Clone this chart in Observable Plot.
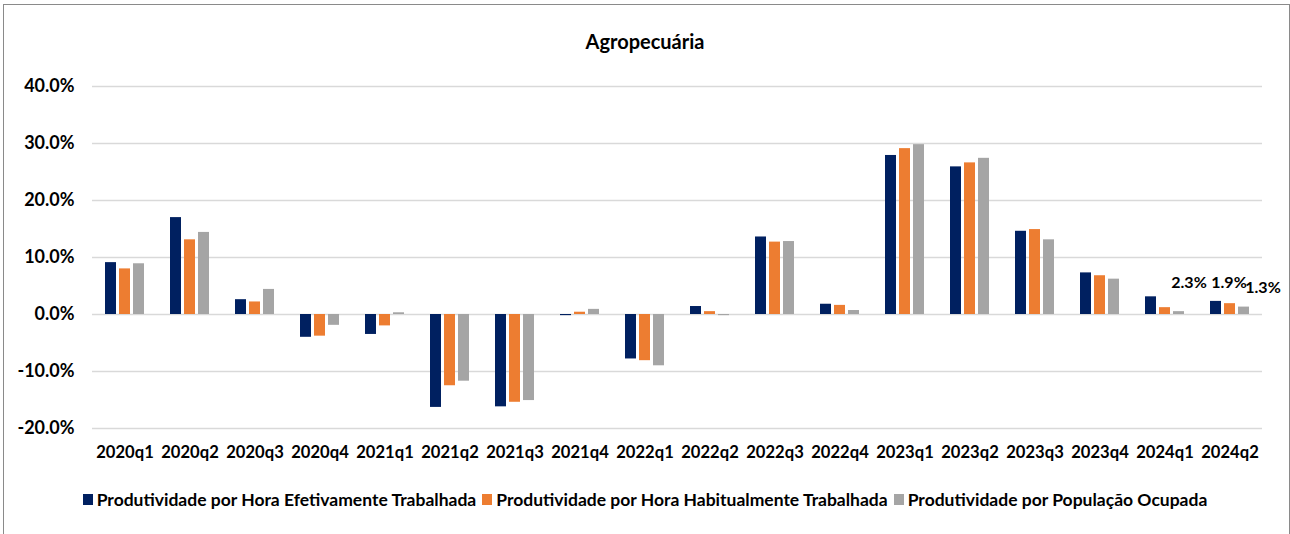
<!DOCTYPE html>
<html>
<head>
<meta charset="utf-8">
<script src="https://cdn.jsdelivr.net/npm/d3@7"></script>
<script src="https://cdn.jsdelivr.net/npm/@observablehq/plot@0.6"></script>
<style>
  html, body { margin: 0; padding: 0; background: #fff; overflow: hidden; }
  #wrap { position: relative; width: 1290px; height: 534px; font-family: Lato, "DejaVu Sans", sans-serif; color: #000; }
  #frame { position: absolute; left: 3px; top: 4px; width: 1287px; height: 600px; border: 1px solid #8a8a8a; box-sizing: border-box; }
  #title { position: absolute; left: 0; top: 0; width: 1290px; height: 65px; line-height: 24px; padding-top: 29px; box-sizing: border-box; text-align: center; font-weight: bold; font-size: 20px; }
  #chart { position: absolute; left: 0; top: 65px; }
  #legend { position: absolute; left: 0; top: 488px; width: 1290px; height: 22px; display: flex; justify-content: center; align-items: center; font-weight: bold; font-size: 17.5px; }
  .item { display: flex; align-items: center; margin: 0 3px; }
  .sw { width: 10px; height: 11px; margin-right: 4px; }
</style>
</head>
<body>
<div id="wrap">
  <div id="frame"></div>
  <div id="title">Agropecuária</div>
  <div id="chart"></div>
  <div id="legend"></div>
</div>
<script>
const quarters = ["2020q1","2020q2","2020q3","2020q4","2021q1","2021q2","2021q3","2021q4","2022q1","2022q2","2022q3","2022q4","2023q1","2023q2","2023q3","2023q4","2024q1","2024q2"];
const seriesNames = ["Produtividade por Hora Efetivamente Trabalhada", "Produtividade por Hora Habitualmente Trabalhada", "Produtividade por População Ocupada"];
const seriesColors = ["#002060", "#ED7D31", "#A5A5A5"];
const efetiva  = [9.1, 17.0, 2.6, -4.0, -3.5, -16.3, -16.2, -0.2, -7.8, 1.4, 13.6, 1.8, 27.9, 25.9, 14.6, 7.3, 3.1, 2.3];
const habitual = [8.0, 13.1, 2.2, -3.8, -2.0, -12.5, -15.4, 0.4, -8.1, 0.5, 12.7, 1.6, 29.1, 26.6, 14.9, 6.8, 1.2, 1.9];
const ocupada  = [8.9, 14.4, 4.4, -1.9, 0.3, -11.7, -15.1, 0.9, -9.0, -0.2, 12.8, 0.7, 29.8, 27.4, 13.1, 6.2, 0.5, 1.3];
const yTicks = [-20, -10, 0, 10, 20, 30, 40];
const labeledQuarter = "2024q2";

const seriesValues = [efetiva, habitual, ocupada];
const rows = quarters.flatMap((q, i) => seriesNames.map((s, j) => ({quarter: q, series: s, value: seriesValues[j][i]})));
const fmt = d => d.toFixed(1) + "%";
const labelOffsets = [{dx: -27, dy: -19}, {dx: -1, dy: -21}, {dx: 19, dy: -19}];

const labelMarks = seriesNames.map((s, j) =>
  Plot.text(rows.filter(d => d.quarter === labeledQuarter && d.series === s), {
    fx: "quarter", x: "series", y: "value", text: d => fmt(d.value),
    dx: labelOffsets[j].dx, dy: labelOffsets[j].dy,
    fontSize: 16, fontWeight: "bold", fill: "#000"
  })
);

const chart = Plot.plot({
  width: 1290, height: 405,
  marginTop: 21, marginBottom: 42, marginLeft: 91, marginRight: 28,
  style: {fontFamily: "Lato, 'DejaVu Sans', sans-serif", fontWeight: "bold", fontSize: "16.6px", color: "#000", background: "transparent"},
  fx: {domain: quarters, padding: 0, label: null, tickSize: 0, tickPadding: 18, axis: "bottom"},
  x: {domain: seriesNames, paddingInner: 0.207, paddingOuter: 0.85, axis: null},
  y: {domain: [-20, 40], ticks: yTicks, tickFormat: fmt, tickSize: 0, tickPadding: 18, label: null},
  color: {domain: seriesNames, range: seriesColors},
  marks: [
    Plot.ruleY(yTicks, {stroke: "#d9d9d9", strokeWidth: 1.5}),
    Plot.barY(rows, {fx: "quarter", x: "series", y: "value", fill: "series"}),
    Plot.axisY({ticks: yTicks, tickFormat: fmt, tickSize: 0, tickPadding: 18, fontSize: 18, label: null}),
    ...labelMarks
  ]
});
document.getElementById("chart").appendChild(chart);

const legend = document.getElementById("legend");
seriesNames.forEach((s, j) => {
  const item = document.createElement("div");
  item.className = "item";
  const sw = document.createElement("span");
  sw.className = "sw";
  sw.style.background = seriesColors[j];
  const t = document.createElement("span");
  t.textContent = s;
  item.appendChild(sw); item.appendChild(t);
  legend.appendChild(item);
});
</script>
</body>
</html>
